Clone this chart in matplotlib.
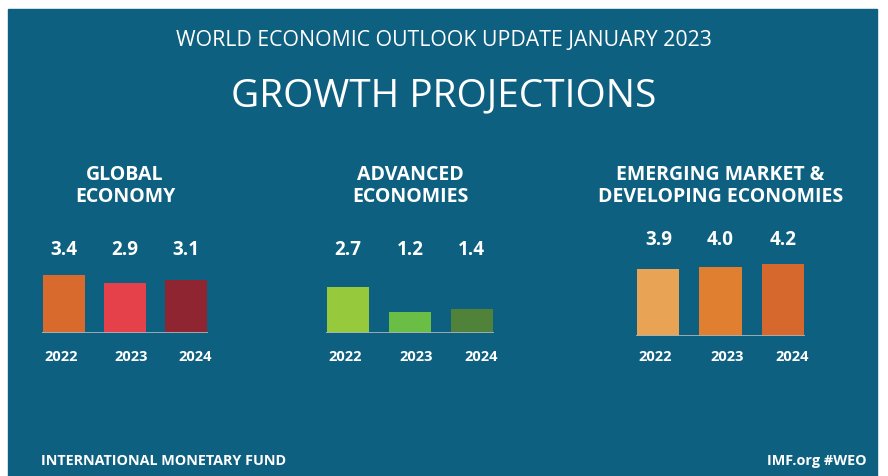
import matplotlib.pyplot as plt
from matplotlib.patches import Rectangle

# data
years = ['2022', '2023', '2024']
global_growth = [3.4, 2.9, 3.1]
advanced_growth = [2.7, 1.2, 1.4]
emde_growth = [3.9, 4.0, 4.2]

panel_titles = ['GLOBAL\nECONOMY', 'ADVANCED\nECONOMIES', 'EMERGING MARKET &\nDEVELOPING ECONOMIES']
panel_colors = [
    ['#d96a2e', '#e5414b', '#8f2530'],
    ['#97c93d', '#6abd45', '#51823a'],
    ['#e8a355', '#e07f2f', '#d6672d'],
]

bg = '#0e6080'
W, H = 888, 477
plt.rcParams['font.family'] = ['Open Sans', 'DejaVu Sans']

fig = plt.figure(figsize=(W / 100, H / 100), dpi=100)
fig.patches.append(Rectangle((8 / W, 0), 869 / W, 1 - 10 / H, transform=fig.transFigure,
                             color=bg, zorder=-1))

fig.text(444 / W, 1 - 41 / H, 'WORLD ECONOMIC OUTLOOK UPDATE JANUARY 2023', color='white',
         fontsize=15.3, ha='center', va='center')
fig.text(444 / W, 1 - 96 / H, 'GROWTH PROJECTIONS', color='white', fontsize=28,
         ha='center', va='center')

# axes: left px, width px, baseline px, value label px, title px
layout = [(42, 166, 334, 250, 186), (326, 168, 334, 250, 186), (636, 169, 337, 240, 186)]
scale = 17.2  # px per percentage point
year_shift = [-0.05, 0.1, 0.15]

for vals, title, cols, (left, width, base, vy, ty) in zip(
        [global_growth, advanced_growth, emde_growth], panel_titles, panel_colors, layout):
    ax = fig.add_axes([left / W, 1 - base / H, width / W, 6 * scale / H])
    ax.set_xlim(-0.36, 2.36)
    ax.set_ylim(0, 6)
    ax.axis('off')
    x = range(len(vals))
    ax.bar(x, vals, width=0.68, color=cols, zorder=2)
    ax.axhline(0, color='#a9b1b6', lw=2, zorder=3)
    for i, v in enumerate(vals):
        ax.text(i, (base - vy) / scale, f'{v:.1f}', color='white', fontsize=13.5,
                fontweight='bold', ha='center', va='center')
        ax.text(i + year_shift[i], -(357 - base) / scale, years[i], color='white',
                fontsize=10.5, fontweight='bold', ha='center', va='center', clip_on=False)
    ax.text(1, (base - ty) / scale, title, color='white', fontsize=14, fontweight='bold',
            ha='center', va='center', linespacing=1.1, clip_on=False)

fig.text(41 / W, 1 - 461 / H, 'INTERNATIONAL MONETARY FUND', color='white', fontsize=10.4,
         fontweight='bold', ha='left', va='center')
fig.text(867 / W, 1 - 461 / H, 'IMF.org #WEO', color='white', fontsize=10.4,
         fontweight='bold', ha='right', va='center')

fig.savefig('out.png', dpi=100, facecolor='white')
